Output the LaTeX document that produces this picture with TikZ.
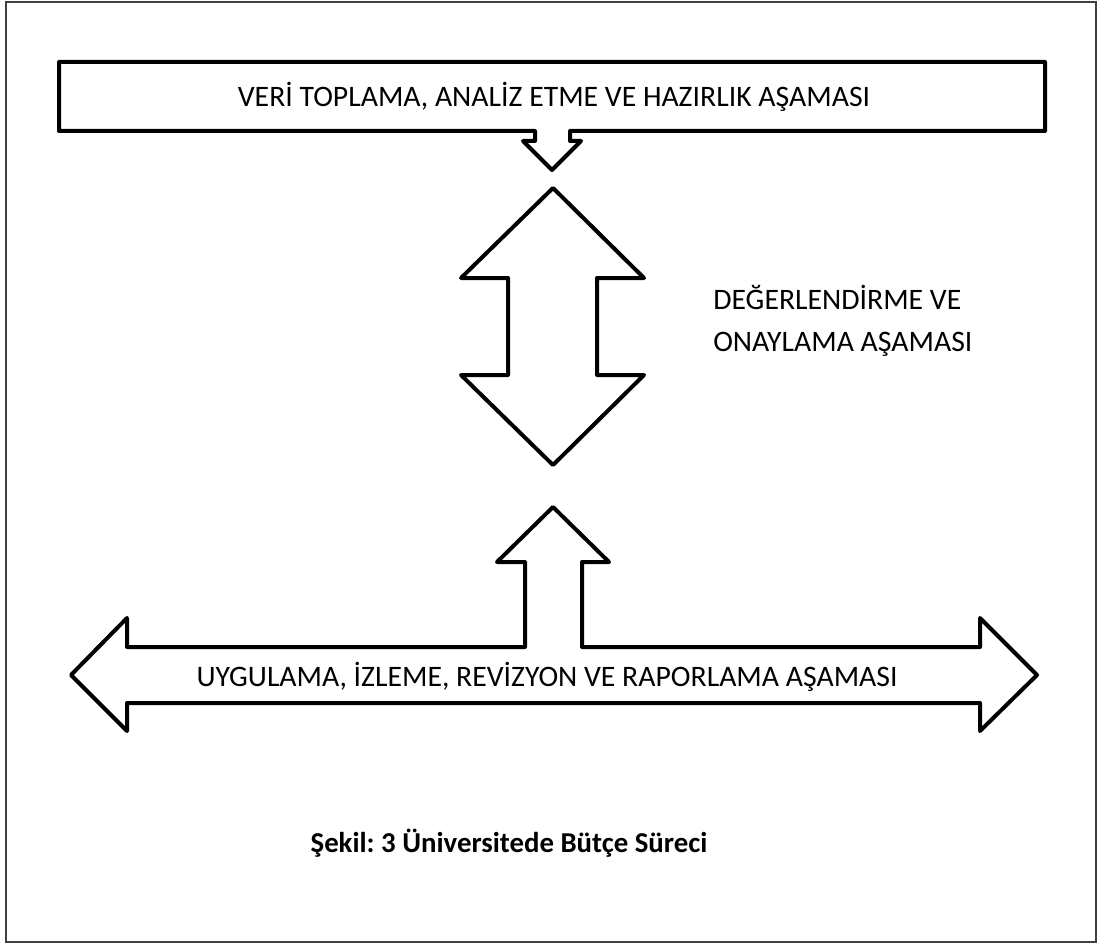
\documentclass[tikz,border=0pt]{standalone}
\usepackage{fontspec}
\setmainfont{Carlito}
\frenchspacing
\tikzset{
  outline/.style={draw=black, line width=3pt, line join=round, fill=white},
  phase/.style={font=\fontsize{22.3}{31}\selectfont, inner sep=0pt}
}
\begin{document}
\begin{tikzpicture}[x=0.75pt,y=-0.75pt]
\useasboundingbox (0,0) rectangle (1098,945);
% frame
\draw[black!75, line width=0.8pt] (6,2) rectangle (1096,942);
% top box with down arrow
\draw[outline] (59,62) -- (1045,62) -- (1045,131) -- (570,131) -- (570,141)
  -- (581,141) -- (552,170) -- (523,141) -- (535,141) -- (535,131) -- (59,131) -- cycle;
\node[phase] (collect) at (554,97) {VERİ TOPLAMA, ANALİZ ETME VE HAZIRLIK AŞAMASI};
% double arrow
\draw[outline] (553,188) -- (644,278) -- (597,278) -- (597,375) -- (644,375)
  -- (553,465) -- (461,375) -- (508,375) -- (508,278) -- (461,278) -- cycle;
\node[phase, anchor=west, align=left] (approve) at (713,321)
  {DEĞERLENDİRME VE\\ONAYLAMA AŞAMASI};
% bottom arrow with up arrow
\draw[outline] (71,675) -- (127,618) -- (127,647) -- (525,647) -- (525,562)
  -- (497,562) -- (553,507) -- (609,562) -- (582,562) -- (582,647) -- (980,647)
  -- (980,618) -- (1037,675) -- (980,731) -- (980,703) -- (127,703) -- (127,731) -- cycle;
\node[phase] (apply) at (547,677) {UYGULAMA, İZLEME, REVİZYON VE RAPORLAMA AŞAMASI};
% caption
\node[font=\bfseries\fontsize{21.6}{26}\selectfont, inner sep=0pt] (caption) at (509,843)
  {Şekil: 3 Üniversitede Bütçe Süreci};
\end{tikzpicture}
\end{document}
